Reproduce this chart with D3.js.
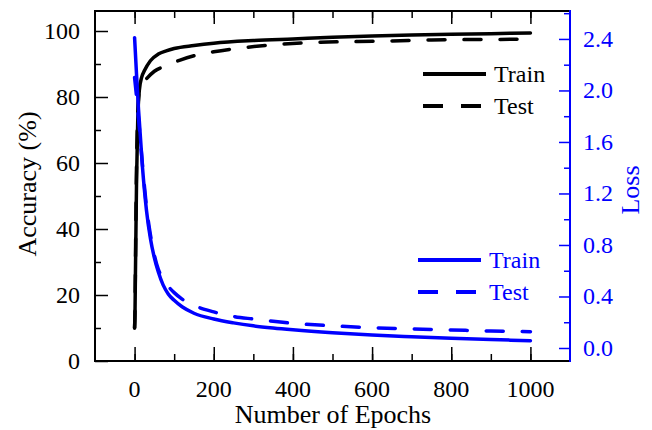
<!DOCTYPE html>
<html>
<head>
<meta charset="utf-8">
<script src="https://cdn.jsdelivr.net/npm/d3@7"></script>
<style>
  body { margin: 0; background: #fff; }
  text { font-family: "Liberation Serif", "Times New Roman", serif; }
</style>
</head>
<body>
<div id="grafik"></div>
<script>
// Veriler
const egitimDogrulukEpok = [0, 1, 2, 3, 5, 8, 12, 18, 25, 40, 60, 80, 100, 150, 200, 300, 400, 500, 600, 700, 800, 900, 1000];
const egitimDogruluk = [10, 14, 25, 35, 55, 73, 82, 86, 88, 91, 93, 94, 94.7, 95.6, 96.3, 97.1, 97.6, 98.1, 98.5, 98.8, 99.0, 99.2, 99.4];
const testDogrulukEpok = [0, 1, 2, 3, 5, 8, 12, 20, 30, 50, 80, 115, 150, 200, 280, 370, 470, 565, 650, 750, 850, 1000];
const testDogruluk = [10, 15, 27, 40, 60, 75, 82, 84, 85.5, 87.8, 89.5, 91.2, 92.5, 93.7, 95, 96, 96.6, 96.8, 97.0, 97.3, 97.4, 97.5];

const egitimKayipEpok = [0, 5, 10, 20, 30, 40, 50, 60, 72, 85, 100, 120, 150, 200, 250, 300, 350, 400, 500, 600, 700, 800, 900, 1000];
const egitimKayip = [2.41, 2.12, 1.85, 1.40, 1.07, 0.85, 0.70, 0.59, 0.49, 0.42, 0.37, 0.32, 0.27, 0.225, 0.195, 0.172, 0.155, 0.141, 0.118, 0.1, 0.087, 0.076, 0.066, 0.056];
const testKayipEpok = [0, 5, 10, 20, 30, 40, 50, 60, 72, 85, 100, 120, 150, 200, 250, 300, 350, 400, 500, 600, 700, 800, 900, 1000];
const testKayip = [2.1, 1.95, 1.78, 1.42, 1.1, 0.88, 0.72, 0.61, 0.54, 0.48, 0.43, 0.38, 0.33, 0.28, 0.245, 0.225, 0.207, 0.192, 0.172, 0.158, 0.148, 0.14, 0.132, 0.127];

const xTikler = [0, 200, 400, 600, 800, 1000];
const solTikler = [0, 20, 40, 60, 80, 100];
const sagTikler = [0, 0.4, 0.8, 1.2, 1.6, 2.0, 2.4];

const genislik = 652, yukseklik = 430;
const kenar = { sol: 95, sag: 82, ust: 11, alt: 69 };
const mavi = "#0000ff";

const svg = d3.select("#grafik").append("svg")
  .attr("width", genislik)
  .attr("height", yukseklik);

const x = d3.scaleLinear().domain([-100, 1100]).range([kenar.sol, genislik - kenar.sag]);
const ySol = d3.scaleLinear().domain([0, 106.06]).range([yukseklik - kenar.alt, kenar.ust]);
const ySag = d3.scaleLinear().domain([-0.101, 2.617]).range([yukseklik - kenar.alt, kenar.ust]);

const altY = yukseklik - kenar.alt;
const sagX = genislik - kenar.sag;

// Eksenler (tikler iceri bakiyor)
function kucukTik(eksen, boy) {
  return g => g.call(eksen.tickSizeInner(boy).tickSizeOuter(0).tickFormat(""))
    .call(g => g.select(".domain").remove());
}

// alt eksen
svg.append("g").attr("transform", `translate(0,${altY})`)
  .call(kucukTik(d3.axisTop(x).tickValues(d3.range(0, 1001, 100)), 7));
svg.append("g").attr("transform", `translate(0,${altY})`)
  .call(kucukTik(d3.axisTop(x).tickValues(xTikler), 14));
svg.append("g")
  .selectAll("text").data(xTikler).enter().append("text")
  .attr("x", d => x(d)).attr("y", 397)
  .attr("text-anchor", "middle").style("font-size", "24px")
  .text(d => d);

// ust eksen
svg.append("g").attr("transform", `translate(0,${kenar.ust})`)
  .call(kucukTik(d3.axisBottom(x).tickValues(d3.range(0, 1001, 100)), 7));
svg.append("g").attr("transform", `translate(0,${kenar.ust})`)
  .call(kucukTik(d3.axisBottom(x).tickValues(xTikler), 13));

// sol eksen
svg.append("g").attr("transform", `translate(${kenar.sol},0)`)
  .call(kucukTik(d3.axisRight(ySol).tickValues(d3.range(10, 101, 20)), 6));
svg.append("g").attr("transform", `translate(${kenar.sol},0)`)
  .call(kucukTik(d3.axisRight(ySol).tickValues(solTikler), 13));
svg.append("g")
  .selectAll("text").data(solTikler).enter().append("text")
  .attr("x", 80).attr("y", d => ySol(d) + 8)
  .attr("text-anchor", "end").style("font-size", "24px")
  .text(d => d);

// sag eksen (mavi)
svg.append("g").attr("transform", `translate(${sagX},0)`)
  .call(kucukTik(d3.axisLeft(ySag).tickValues(d3.range(0.2, 2.61, 0.4)), 6))
  .selectAll("line").attr("stroke", mavi).attr("stroke-width", 1.5);
svg.append("g").attr("transform", `translate(${sagX},0)`)
  .call(kucukTik(d3.axisLeft(ySag).tickValues(sagTikler), 11))
  .selectAll("line").attr("stroke", mavi).attr("stroke-width", 1.5);
svg.append("g")
  .selectAll("text").data(sagTikler).enter().append("text")
  .attr("x", 583).attr("y", d => ySag(d) + 8)
  .attr("fill", mavi).style("font-size", "24px")
  .text(d => d3.format(".1f")(d));

svg.selectAll("g .tick line").filter(function() { return !this.getAttribute("stroke-width"); })
  .attr("stroke", "#000").attr("stroke-width", 1.5);

// cerceve
svg.append("path")
  .attr("d", `M${sagX},${kenar.ust}H${kenar.sol}V${altY}H${sagX}`)
  .attr("fill", "none").attr("stroke", "#000").attr("stroke-width", 2);
svg.append("line")
  .attr("x1", sagX).attr("x2", sagX).attr("y1", kenar.ust - 1).attr("y2", altY + 1)
  .attr("stroke", mavi).attr("stroke-width", 2);

// eksen basliklari
svg.append("text")
  .attr("x", 333).attr("y", 423)
  .attr("text-anchor", "middle").style("font-size", "26px")
  .text("Number of Epochs");
svg.append("text")
  .attr("transform", `translate(36,184) rotate(-90)`)
  .attr("text-anchor", "middle").style("font-size", "26px")
  .text("Accuracy (%)");
svg.append("text")
  .attr("transform", `translate(639,190) rotate(-90)`)
  .attr("text-anchor", "middle").attr("fill", mavi).style("font-size", "26px")
  .text("Loss");

// cizgiler
const dogrulukCizgi = d3.line().x(d => x(d[0])).y(d => ySol(d[1])).curve(d3.curveMonotoneX);
const kayipCizgi = d3.line().x(d => x(d[0])).y(d => ySag(d[1])).curve(d3.curveMonotoneX);

const seriler = [
  { veri: d3.zip(egitimDogrulukEpok, egitimDogruluk), cizgi: dogrulukCizgi, renk: "#000", kesik: null },
  { veri: d3.zip(testDogrulukEpok, testDogruluk), cizgi: dogrulukCizgi, renk: "#000", kesik: "17,19" },
  { veri: d3.zip(egitimKayipEpok, egitimKayip), cizgi: kayipCizgi, renk: mavi, kesik: null },
  { veri: d3.zip(testKayipEpok, testKayip), cizgi: kayipCizgi, renk: mavi, kesik: "17,19" }
];

svg.append("g").selectAll("path").data(seriler).enter().append("path")
  .attr("d", d => d.cizgi(d.veri))
  .attr("fill", "none")
  .attr("stroke", d => d.renk)
  .attr("stroke-width", 3.5)
  .attr("stroke-linecap", "round")
  .attr("stroke-dasharray", d => d.kesik);

// lejantlar
const lejant = [
  { ad: "Train", renk: "#000", kesik: null, x1: 423, x2: 486, y: 74 },
  { ad: "Test", renk: "#000", kesik: "20,18", x1: 423, x2: 486, y: 106 },
  { ad: "Train", renk: mavi, kesik: null, x1: 418, x2: 481, y: 260 },
  { ad: "Test", renk: mavi, kesik: "20,18", x1: 418, x2: 481, y: 292 }
];
const lg = svg.append("g").selectAll("g").data(lejant).enter().append("g");
lg.append("line")
  .attr("x1", d => d.x1).attr("x2", d => d.x2)
  .attr("y1", d => d.y).attr("y2", d => d.y)
  .attr("stroke", d => d.renk).attr("stroke-width", 4)
  .attr("stroke-dasharray", d => d.kesik);
lg.append("text")
  .attr("x", d => d.x2 + 8).attr("y", d => d.y + 8)
  .attr("fill", d => d.renk).style("font-size", "24px")
  .text(d => d.ad);
</script>
</body>
</html>
